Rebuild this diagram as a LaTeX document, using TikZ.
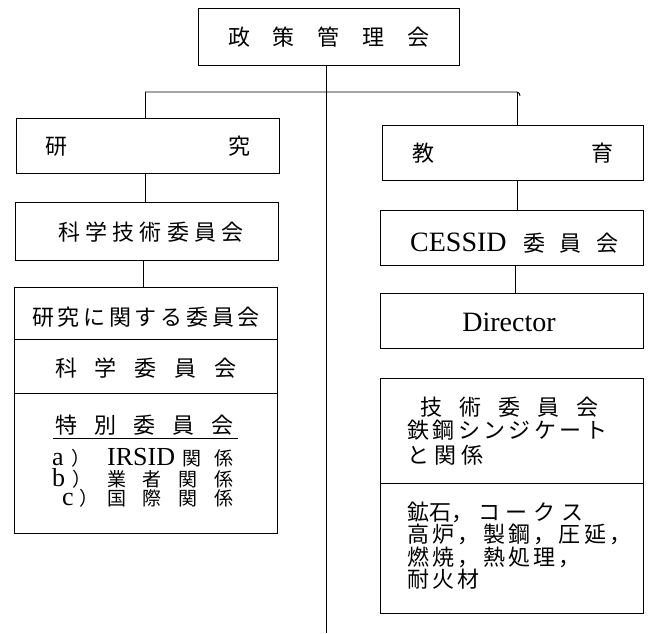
\documentclass[tikz,border=0pt]{standalone}
\usepackage{fontspec}
\newfontfamily\cjkfam{Noto Sans CJK JP}
\newfontfamily\latfam{Liberation Serif}
\newcommand\jpf{\cjkfam\fontsize{22}{24}\selectfont}
\newcommand\jps{\cjkfam\fontsize{19}{19.5}\selectfont}
\newcommand\latf{\latfam\fontsize{28}{30}\selectfont}
\newcommand\lats{\latfam\fontsize{26}{19.5}\selectfont}
\newcommand\sprd[2]{\makebox[#1][s]{#2}}
\begin{document}
\begin{tikzpicture}[x=1pt,y=-1pt,
  box/.style={draw,line width=0.9pt,inner sep=0pt},
  jt/.style={inner sep=0pt,font=\jpf},
  js/.style={inner sep=0pt,font=\jps},
  lt/.style={inner sep=0pt,font=\latf},
  link/.style={line width=0.9pt}]
\useasboundingbox[fill=white] (0,0) rectangle (652,633);

% ---- boxes ----
\node[box,minimum width=261pt,minimum height=57pt] (top) at (328.5,36.5) {};
\node[box,minimum width=263pt,minimum height=55pt] (kenkyu) at (147.5,145.5) {};
\node[box,minimum width=263pt,minimum height=58pt] (kagaku) at (146.5,231) {};
\node[box,minimum width=263pt,minimum height=52pt] (lp1) at (145.5,313) {};
\node[box,minimum width=263pt,minimum height=54pt] (lp2) at (145.5,366) {};
\node[box,minimum width=263pt,minimum height=140pt] (lp3) at (145.5,463) {};
\node[box,minimum width=261pt,minimum height=55pt] (kyoiku) at (512.5,152.5) {};
\node[box,minimum width=263pt,minimum height=55pt] (cessid) at (511.5,237.5) {};
\node[box,minimum width=263pt,minimum height=55pt] (director) at (511.5,320.5) {};
\node[box,minimum width=263pt,minimum height=105pt] (rp1) at (511.5,430.5) {};
\node[box,minimum width=263pt,minimum height=130pt] (rp2) at (511.5,548) {};

% ---- connectors ----
\coordinate (busL) at (145,92);
\coordinate (busR) at (517,92);
\coordinate (bottom) at (326,633);
\draw[link] (top.south -| bottom) -- (bottom);
\draw[link] (busL) -- (busR) to[out=0,in=90] ([xshift=3pt,yshift=-4pt]busR);
\draw[link] (busL) -- (busL |- kenkyu.north);
\draw[link] (busR) -- (busR |- kyoiku.north);
\draw[link] (kenkyu.south -| busL) -- (busL |- kagaku.north);
\draw[link] (kagaku.south -| 143,0) -- (lp1.north -| 143,0);
\draw[link] (kyoiku.south -| busR) -- (busR |- cessid.north);
\draw[link] (cessid.south -| 515,0) -- (director.north -| 515,0);

% ---- texts ----
\node[jt] (t1) at (329,37) {\sprd{202pt}{政 策 管 理 会}};
\node[jt] (t2) at (147.5,146) {\sprd{205pt}{研 究}};
\node[jt] (t3) at (151,232) {\sprd{186pt}{科 学 技 術 委 員 会}};
\node[jt] (t4) at (146,317) {\sprd{228pt}{研 究 に 関 す る 委 員 会}};
\node[jt] (t5) at (146,368) {\sprd{182pt}{科 学 委 員 会}};
\node[jt,anchor=west] (t6) at (55,425) {\sprd{178pt}{特 別 委 員 会}};
\draw[line width=0.8pt] ([xshift=-2pt,yshift=-3pt]t6.south west) -- ([xshift=5pt,yshift=-3pt]t6.south east);

\node[js,anchor=north west,align=left] (rows) at (52,448) {%
\makebox[55pt][l]{\lats a\hspace{8pt}\jps ）}\makebox[75pt][l]{\lats IRSID}\sprd{51pt}{関 係}\\
\makebox[55pt][l]{\lats b\hspace{7pt}\jps ）}\sprd{126pt}{業 者 関 係}\\
\makebox[55pt][l]{\hspace{10pt}\lats c\hspace{6pt}\jps ）}\sprd{126pt}{国 際 関 係}};

\node[jt] (t7) at (512.5,153) {\sprd{201pt}{教 育}};
\node[lt,anchor=west] (t8) at (410,242) {CESSID};
\node[jt,anchor=west] (t9) at (523,243) {\sprd{95pt}{委 員 会}};
\node[lt] (t10) at (509,322) {Director};

\node[jt,anchor=west] (r1) at (420,407) {\sprd{178pt}{技 術 委 員 会}};
\node[jt,anchor=west] (r2) at (407,430) {\sprd{200pt}{鉄 鋼 シ ン ジ ケ ー ト}};
\node[jt,anchor=west] (r3) at (407,455) {\sprd{76pt}{と 関 係}};
\node[jt,anchor=west] (r4) at (407,512) {鉱石，};
\node[jt,anchor=west] (r4b) at (478,512) {\sprd{105pt}{コ ー ク ス}};
\node[jt,anchor=west] (r5) at (407,534) {\sprd{216pt}{高 炉 ， 製 鋼 ， 圧 延 ，}};
\node[jt,anchor=west] (r6) at (407,557) {\sprd{165pt}{燃 焼 ， 熱 処 理 ，}};
\node[jt,anchor=west] (r7) at (407,579) {\sprd{70pt}{耐 火 材}};
\end{tikzpicture}
\end{document}
